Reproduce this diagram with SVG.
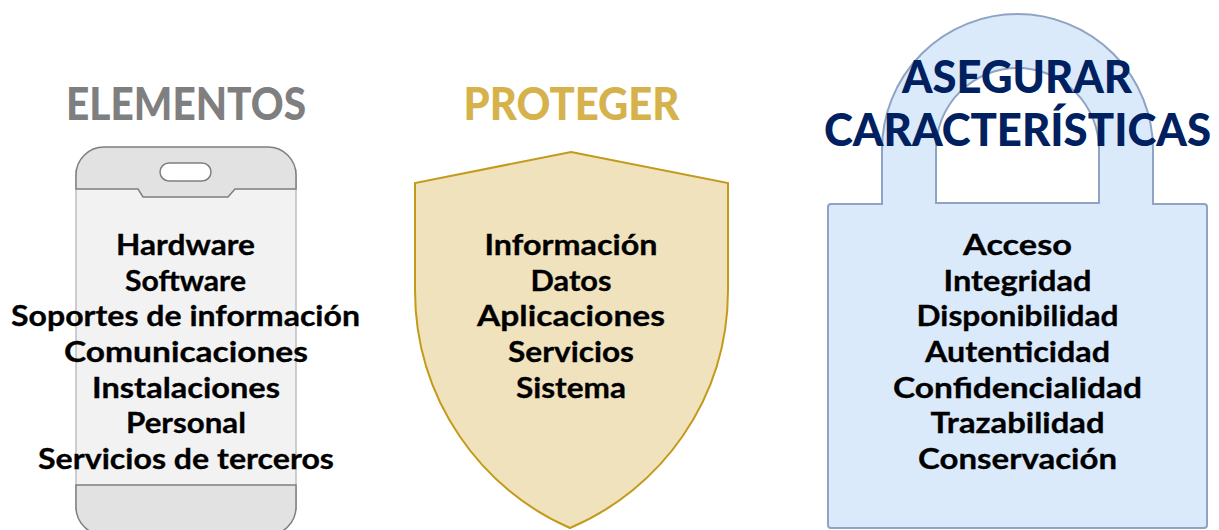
<svg xmlns="http://www.w3.org/2000/svg" width="1219" height="530" viewBox="0 0 1219 530">
<style>
text{font-family:"Lato","Liberation Sans",sans-serif;font-weight:700;text-anchor:middle}
.i{font-size:28px;fill:#000;stroke:#000;stroke-width:.3}
.h{font-size:45px;font-weight:900}
.band{fill:#e2e2e2;stroke:#7f7f7f;stroke-width:1.5}
</style>
<rect width="1219" height="530" fill="#fff"/>
<g id="elementos">
<rect x="76" y="170" width="220" height="340" fill="#f2f2f2" stroke="#bfbfbf" stroke-width="1.5"/>
<path class="band" d="M76 176V175A28 28 0 0 1 104 147H268A28 28 0 0 1 296 175V189H235L228 197H143L138 189H76Z"/>
<rect x="160" y="163" width="51" height="18" rx="9" fill="#fff" stroke="#7f7f7f" stroke-width="1.5"/>
<path class="band" d="M76 485H296V507A28 28 0 0 1 268 535H104A28 28 0 0 1 76 507Z"/>
<text class="h" x="186" y="120" fill="#7f7f7f" textLength="240" lengthAdjust="spacingAndGlyphs">ELEMENTOS</text>
<text class="i" x="185.500" y="255" textLength="139" lengthAdjust="spacingAndGlyphs">Hardware</text>
<text class="i" x="185.500" y="291" textLength="121" lengthAdjust="spacingAndGlyphs">Software</text>
<text class="i" x="185.500" y="326" textLength="349" lengthAdjust="spacingAndGlyphs">Soportes de información</text>
<text class="i" x="186" y="362" textLength="244" lengthAdjust="spacingAndGlyphs">Comunicaciones</text>
<text class="i" x="186" y="398" textLength="188" lengthAdjust="spacingAndGlyphs">Instalaciones</text>
<text class="i" x="186" y="433" textLength="120" lengthAdjust="spacingAndGlyphs">Personal</text>
<text class="i" x="186" y="469" textLength="296" lengthAdjust="spacingAndGlyphs">Servicios de terceros</text>
</g>
<g id="proteger">
<path d="M571 152L728 183V290C728 400 660 490 570 528C482 490 415 400 415 290V183Z" fill="#efe2bd" stroke="#c49a1a" stroke-width="2"/>
<text class="h" x="571.500" y="120" fill="#d6b24c" textLength="216" lengthAdjust="spacingAndGlyphs">PROTEGER</text>
<text class="i" x="571" y="255" textLength="173" lengthAdjust="spacingAndGlyphs">Información</text>
<text class="i" x="571" y="291" textLength="81" lengthAdjust="spacingAndGlyphs">Datos</text>
<text class="i" x="571" y="326" textLength="188" lengthAdjust="spacingAndGlyphs">Aplicaciones</text>
<text class="i" x="571" y="362" textLength="126" lengthAdjust="spacingAndGlyphs">Servicios</text>
<text class="i" x="571" y="398" textLength="110" lengthAdjust="spacingAndGlyphs">Sistema</text>
</g>
<g id="asegurar">
<path d="M882 204V149.500A135.500 135.500 0 0 1 1153 149.500V204H1204Q1207 204 1207 207V525Q1207 528 1204 528H831Q828 528 828 525V207Q828 204 831 204ZM936 203H1099V149.500A81.500 81.500 0 0 0 936 149.500Z" fill="#dbeafa" fill-rule="evenodd" stroke="#8fa3c4" stroke-width="2"/>
<text class="h" x="1017" y="93" fill="#002060" textLength="230" lengthAdjust="spacingAndGlyphs">ASEGURAR</text>
<text class="h" x="1017.500" y="146" fill="#002060" textLength="387" lengthAdjust="spacingAndGlyphs">CARACTERÍSTICAS</text>
<text class="i" x="1017.500" y="255" textLength="109" lengthAdjust="spacingAndGlyphs">Acceso</text>
<text class="i" x="1017.500" y="291" textLength="148" lengthAdjust="spacingAndGlyphs">Integridad</text>
<text class="i" x="1017.500" y="326" textLength="202" lengthAdjust="spacingAndGlyphs">Disponibilidad</text>
<text class="i" x="1017.500" y="362" textLength="185" lengthAdjust="spacingAndGlyphs">Autenticidad</text>
<text class="i" x="1017.500" y="398" textLength="249" lengthAdjust="spacingAndGlyphs">Confidencialidad</text>
<text class="i" x="1017.500" y="433" textLength="174" lengthAdjust="spacingAndGlyphs">Trazabilidad</text>
<text class="i" x="1017.500" y="469" textLength="199" lengthAdjust="spacingAndGlyphs">Conservación</text>
</g>
</svg>
